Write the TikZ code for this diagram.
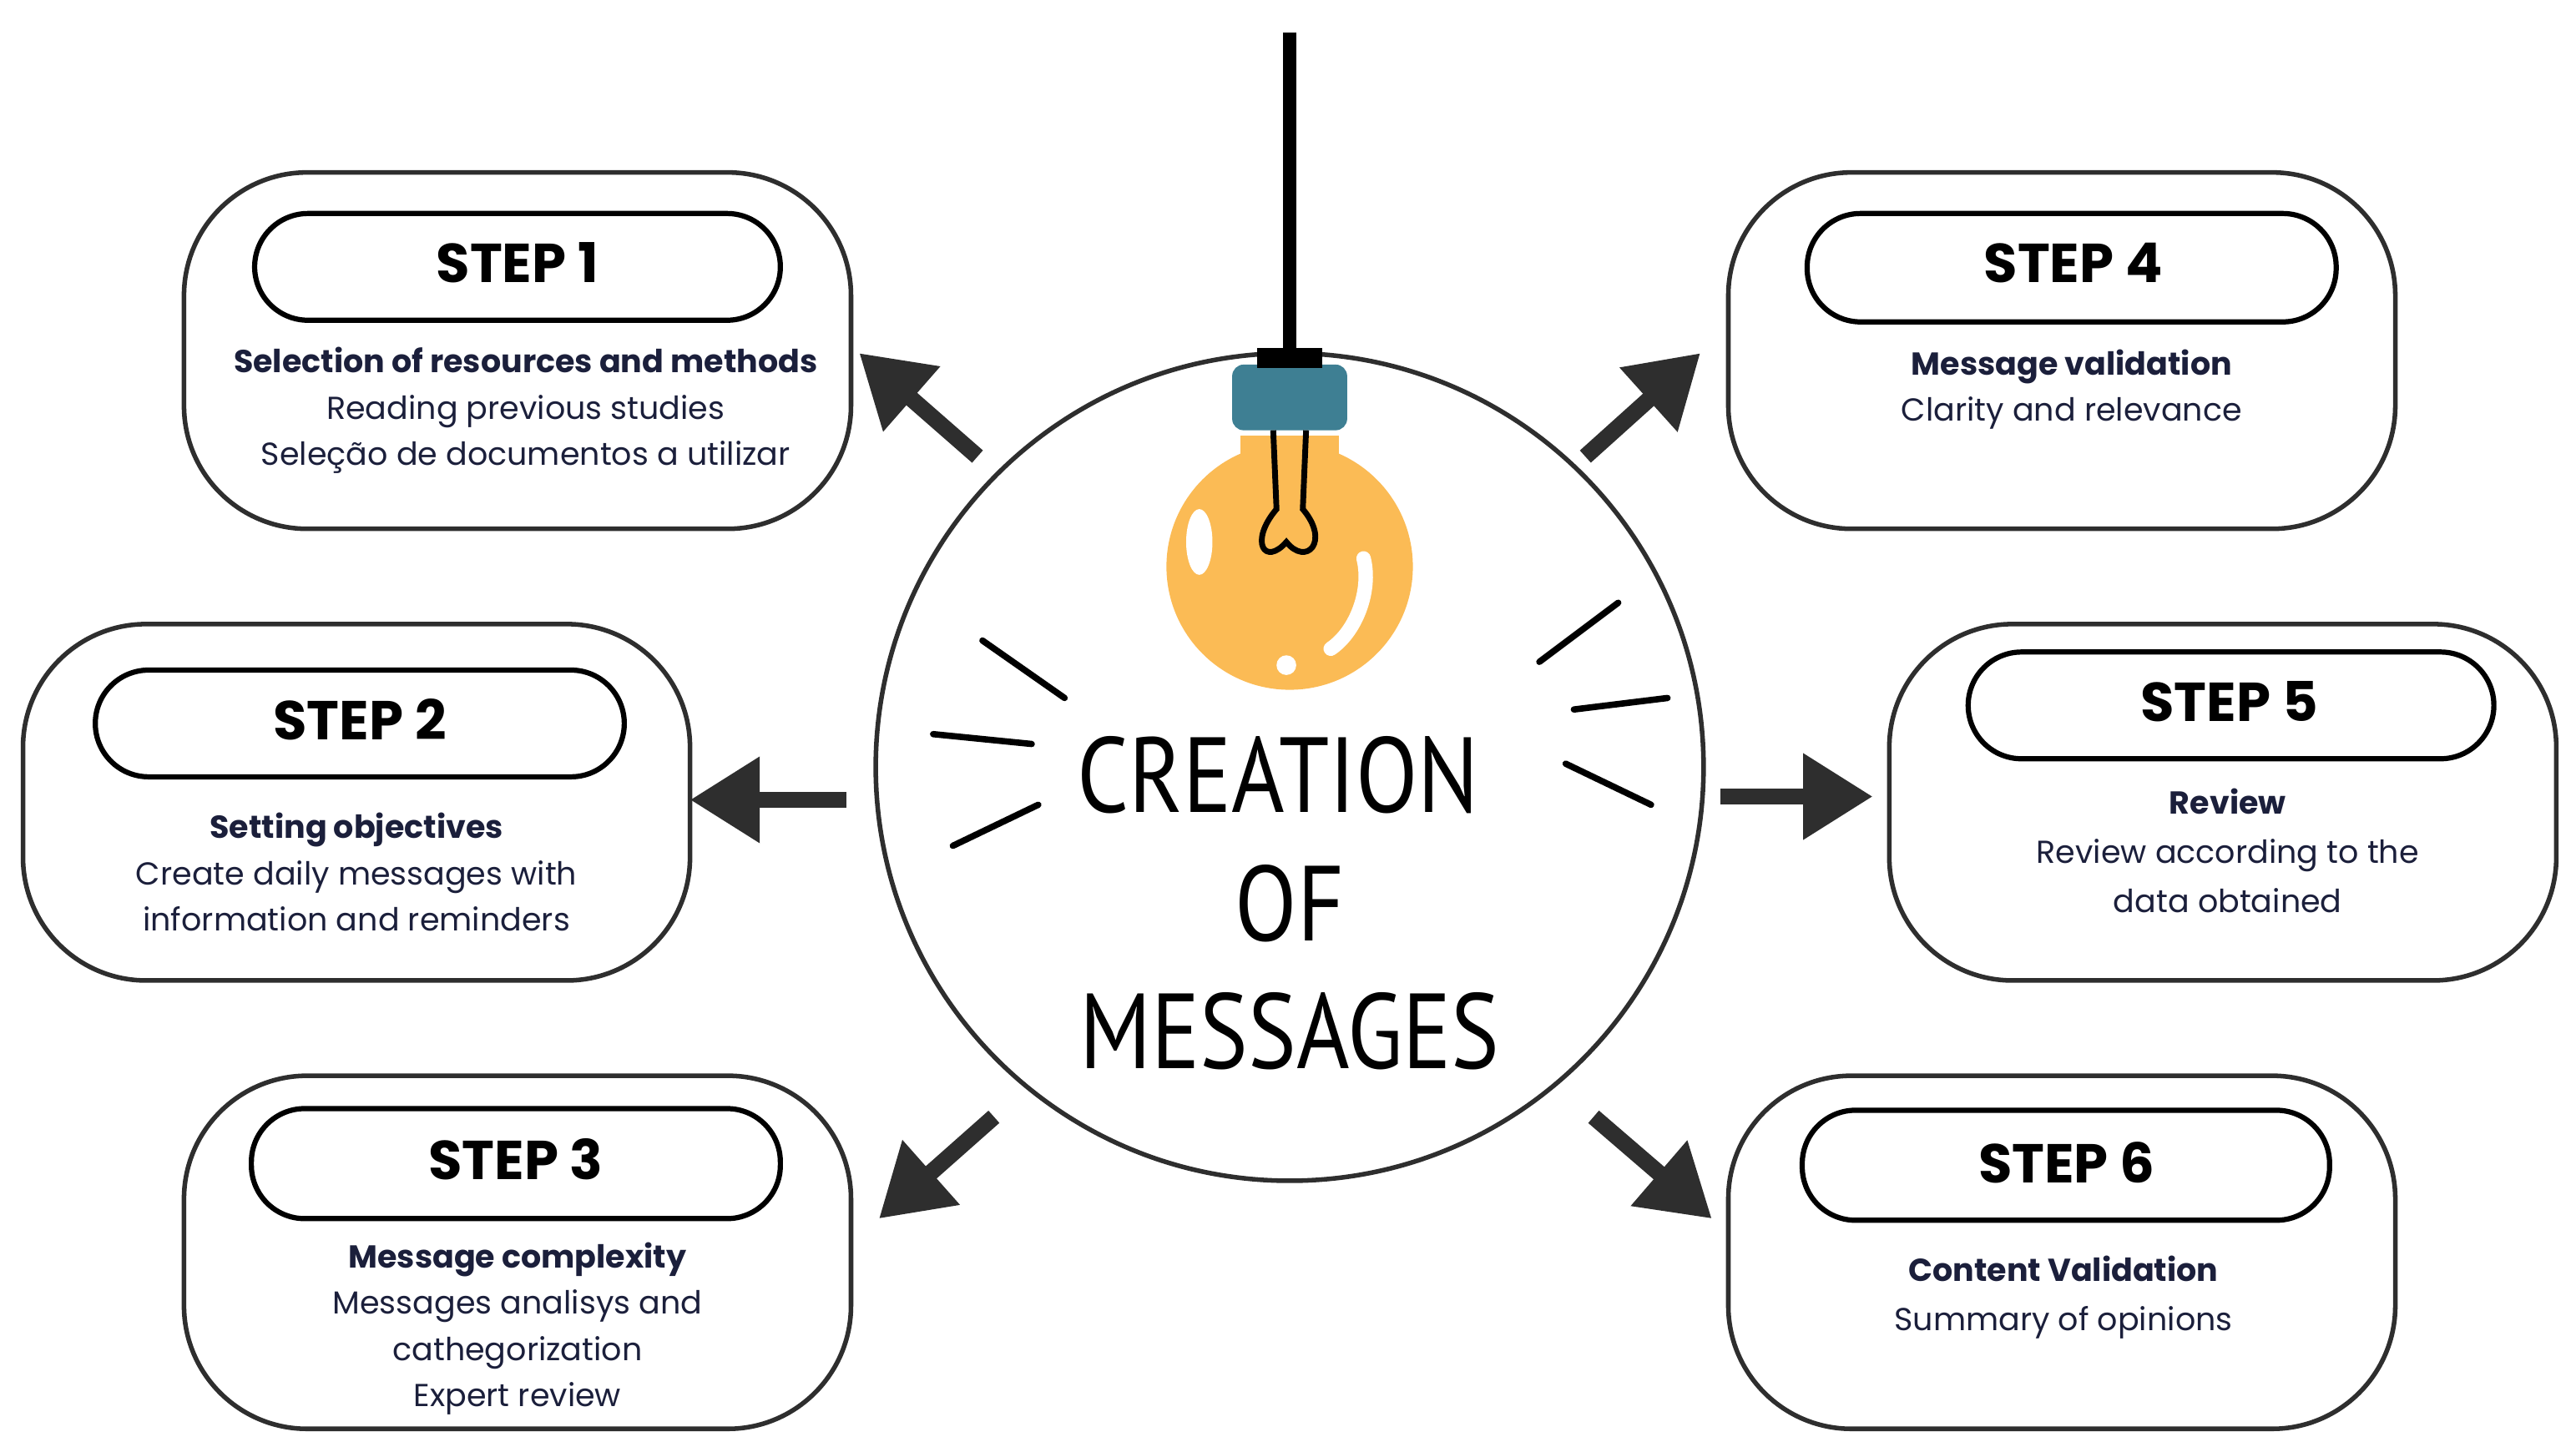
\documentclass[tikz,border=0pt]{standalone}
\usepackage{fontspec}
\setmainfont{Poppins}
\newfontfamily\titlefont{PT Sans}
\usetikzlibrary{arrows.meta}
\definecolor{navy}{HTML}{1B1F3B}
\definecolor{edge}{HTML}{2E2E2E}
\definecolor{bulb}{HTML}{FBBB55}
\definecolor{capc}{HTML}{3E7F93}
\begin{document}
\begin{tikzpicture}[x=0.02cm,y=-0.02cm,
  outer/.style={draw=edge,line width=1.6pt,rounded corners=1.5cm},
  pill/.style={draw=black,line width=1.8pt,rounded corners=0.65cm},
  steplab/.style={font=\fontsize{19}{20}\selectfont\bfseries},
  txt/.style={align=center,text=navy,font=\fontsize{11}{16}\selectfont},
  arr/.style={draw=edge,line width=0.2cm,-{Triangle[length=0.85cm,width=1.0cm]}},
  ray/.style={line width=2.2pt,line cap=round}]
\useasboundingbox (0,0) rectangle (1568,884);
% pendant and circle
\coordinate (top) at (785,20);
\coordinate (capt) at (785,215);
\draw[line width=0.17cm] (top) -- (capt);
\node[circle,draw=edge,line width=1.6pt,minimum size=10.08cm] (hub) at (785,467) {};
% bulb
\fill[bulb] (785,345) circle (75);
\fill[bulb] (755,265) rectangle (815,300);
\fill[capc,rounded corners=4pt] (750,222) rectangle (820,262);
\fill[black] (765,212) rectangle (805,224);
\draw[black,line width=2pt] (775,262) -- (777,310) .. controls (760,330) and (770,345) .. (783,330) .. controls (795,345) and (810,330) .. (793,310) -- (795,262);
\fill[white] (730,330) ellipse (8 and 20);
\fill[white] (783,405) circle (6);
\draw[white,line width=5pt,line cap=round] (830,340) .. controls (835,360) and (825,385) .. (810,395);
% rays
\draw[ray] (598,390) -- (648,425); \draw[ray] (568,447) -- (628,453); \draw[ray] (580,515) -- (632,490);
\draw[ray] (937,403) -- (985,367); \draw[ray] (958,432) -- (1015,425); \draw[ray] (953,465) -- (1005,490);
% title
\node[font=\titlefont\fontsize{37}{40}\selectfont,xscale=0.85] (t1) at (778,472) {CREATION};
\node[font=\titlefont\fontsize{37}{40}\selectfont,xscale=0.85] (t2) at (785,550) {OF};
\node[font=\titlefont\fontsize{37}{40}\selectfont,xscale=0.85] (t3) at (785,628) {MESSAGES};
% boxes
\draw[outer] (112,105) rectangle (518,322);
\draw[pill] (155,130) rectangle (475,195); \node[steplab] (s1) at (315,160) {STEP 1};
\node[txt] (b1) at (320,250) {\textbf{Selection of resources and methods}\\Reading previous studies\\Seleção de documentos a utilizar};
\draw[outer] (14,380) rectangle (420,597);
\draw[pill] (58,408) rectangle (380,473); \node[steplab] (s2) at (219,438) {STEP 2};
\node[txt] (b2) at (217,531) {\textbf{Setting objectives}\\Create daily messages with\\information and reminders};
\draw[outer] (112,655) rectangle (518,870);
\draw[pill] (153,675) rectangle (475,742); \node[steplab] (s3) at (314,706) {STEP 3};
\node[txt] (b3) at (315,809) {\textbf{Message complexity}\\Messages analisys and\\cathegorization\\Expert review};
\draw[outer] (1052,105) rectangle (1458,322);
\draw[pill] (1100,130) rectangle (1422,196); \node[steplab] (s4) at (1262,160) {STEP 4};
\node[txt] (b4) at (1261,237) {\textbf{Message validation}\\Clarity and relevance};
\draw[outer] (1150,380) rectangle (1556,597);
\draw[pill] (1198,397) rectangle (1518,462); \node[steplab] (s5) at (1357,427) {STEP 5};
\node[txt,font=\fontsize{11}{17}\selectfont] (b5) at (1356,518) {\textbf{Review}\\Review according to the\\data obtained};
\draw[outer] (1052,655) rectangle (1458,870);
\draw[pill] (1097,676) rectangle (1418,743); \node[steplab] (s6) at (1258,708) {STEP 6};
\node[txt,font=\fontsize{11}{17}\selectfont] (b6) at (1256,790) {\textbf{Content Validation}\\Summary of opinions};
% arrows
\coordinate (a1s) at (595,278); \coordinate (a1e) at (523,215);
\coordinate (a2s) at (515,487); \coordinate (a2e) at (420,487);
\coordinate (a3s) at (605,680); \coordinate (a3e) at (535,742);
\coordinate (a4s) at (965,278); \coordinate (a4e) at (1035,215);
\coordinate (a5s) at (1047,485); \coordinate (a5e) at (1140,485);
\coordinate (a6s) at (970,680); \coordinate (a6e) at (1042,742);
\foreach \i in {1,...,6} {\draw[arr] (a\i s) -- (a\i e);}
\end{tikzpicture}
\end{document}
